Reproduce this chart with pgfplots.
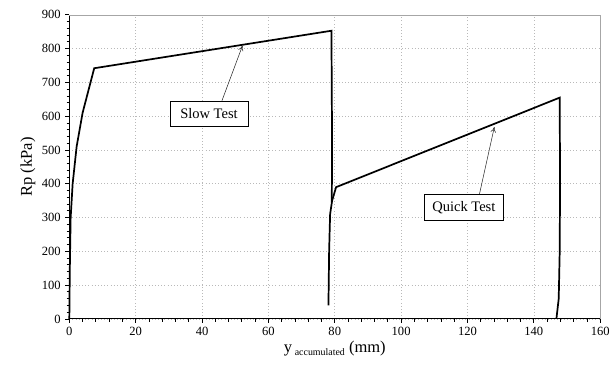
\documentclass[border=0pt]{standalone}
\usepackage{pgfplots}
\pgfplotsset{compat=1.18}
\usetikzlibrary{arrows.meta}
\usepackage{fontspec}
\setmainfont{Liberation Serif}
\begin{document}
\begin{tikzpicture}
\begin{axis}[
  scale only axis,
  width=402pt, height=230.25pt,
  xmin=0, xmax=160, ymin=0, ymax=900,
  xtick={0,20,...,160}, ytick={0,100,...,900},
  minor x tick num=4, minor y tick num=4,
  axis lines=left,
  axis line style={-, black, line width=0.8pt},
  tick align=outside,
  major tick length=3pt, minor tick length=2pt,
  tick style={black, line width=0.6pt},
  grid=major,
  major grid style={gray!55, dotted, line width=0.45pt},
  /pgf/number format/assume math mode=true,
  tick label style={font=\fontsize{9.5}{11}\selectfont},
  xlabel={y\,\raisebox{-0.35ex}{\fontsize{7.5}{8}\selectfont accumulated} (mm)},
  ylabel={Rp (kPa)},
  label style={font=\fontsize{12.5}{14}\selectfont},
  xlabel style={yshift=3pt},
  ylabel style={yshift=-2pt},
  clip=false,
]
\path (rel axis cs:-0.1306,-0.1498) (rel axis cs:1.0149,1.0489);
% grid top and right borders
\draw[gray!70, line width=0.5pt] (rel axis cs:0,1) -- (rel axis cs:1,1) -- (rel axis cs:1,0);
% Slow test
\addplot[black, line width=1.3pt] coordinates {
 (0,0) (0.15,150) (0.4,300) (1,400) (2.2,510) (4,610) (7.5,742) (79,853) (79.2,500) (79.1,345)
};
% Quick test
\addplot[black, line width=1.3pt] coordinates {
 (78.1,40) (78.3,200) (78.6,310) (79.2,350) (80.4,390) (147.8,655) (147.9,400) (147.8,200) (147.5,60) (146.8,0)
};
\draw[-{To[length=4pt,width=4pt]}, gray!30!black, line width=0.4pt] (axis cs:46,646) -- (axis cs:52.2,809);
\draw[-{To[length=4pt,width=4pt]}, gray!30!black, line width=0.4pt] (axis cs:123.6,369) -- (axis cs:128.1,568);
\node[draw, fill=white, line width=0.6pt, minimum width=59pt, minimum height=19.5pt, inner sep=2pt, font=\fontsize{11}{12}\selectfont] at (axis cs:42.1,607) {Slow Test};
\node[draw, fill=white, line width=0.6pt, minimum width=60pt, minimum height=19.5pt, inner sep=2pt, font=\fontsize{11}{12}\selectfont] at (axis cs:118.9,329) {Quick Test};
\end{axis}
\end{tikzpicture}
\end{document}
